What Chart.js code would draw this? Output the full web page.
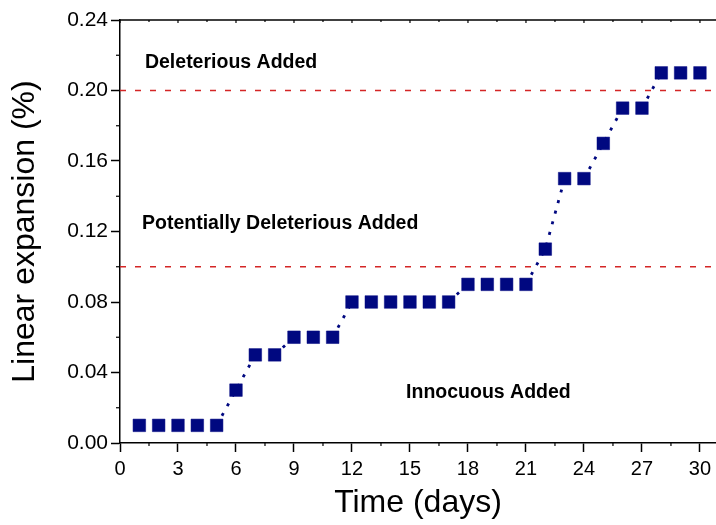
<!DOCTYPE html>
<html>
<head>
<meta charset="utf-8">
<script src="https://cdn.jsdelivr.net/npm/chart.js@4.4.1/dist/chart.umd.min.js"></script>
<style>
  html, body { margin: 0; padding: 0; background: #ffffff; }
  #wrap { width: 716px; height: 525px; }
</style>
</head>
<body>
<div id="wrap"><canvas id="c" width="716" height="525"></canvas></div>
<script>
const days = [1,2,3,4,5,6,7,8,9,10,11,12,13,14,15,16,17,18,19,20,21,22,23,24,25,26,27,28,29,30];
const expansion = [0.01,0.01,0.01,0.01,0.01,0.03,0.05,0.05,0.06,0.06,0.06,0.08,0.08,0.08,0.08,0.08,0.08,0.09,0.09,0.09,0.09,0.11,0.15,0.15,0.17,0.19,0.19,0.21,0.21,0.21];
const thresholds = [0.10, 0.20];
const zoneLabels = ["Deleterious Added", "Potentially Deleterious Added", "Innocuous Added"];
const zoneAnchors = [[1.29, 0.2160], [1.14, 0.1245], [14.8, 0.0284]];
const xMin = 0, xMax = 30.83, xStep = 3, xMinor = 1.5;
const yMin = 0, yMax = 0.24, yStep = 0.04, yMinor = 0.02;

const seriesPoints = days.map((d, i) => ({x: d, y: expansion[i]}));
const thresholdSets = thresholds.map(t => ({
  type: 'line',
  data: [{x: xMin, y: t}, {x: xMax, y: t}],
  borderColor: '#d42626',
  borderWidth: 1.3,
  borderDash: [6, 9],
  pointRadius: 0,
  showLine: true,
  order: 2
}));

const decorPlugin = {
  id: 'decor',
  afterDatasetsDraw(chart) {
    const ctx = chart.ctx, xs = chart.scales.x, ys = chart.scales.y, ca = chart.chartArea;
    ctx.save();
    ctx.strokeStyle = '#000';
    ctx.lineWidth = 1.5;
    ctx.beginPath();
    ctx.moveTo(ca.left, ca.top);
    ctx.lineTo(ca.right, ca.top);
    ctx.stroke();
    ctx.lineWidth = 1.2;
    for (let v = xMin; v <= xMax + 1e-9; v += xMinor) {
      const px = xs.getPixelForValue(v);
      const major = Math.abs(v / xStep - Math.round(v / xStep)) < 1e-6;
      ctx.beginPath();
      if (!major) { ctx.moveTo(px, ca.bottom); ctx.lineTo(px, ca.bottom + 3); }
      ctx.moveTo(px, ca.top); ctx.lineTo(px, ca.top + (major ? 3 : 2));
      ctx.stroke();
    }
    for (let v = yMin + yMinor; v < yMax; v += yStep) {
      const py = ys.getPixelForValue(v);
      ctx.beginPath();
      ctx.moveTo(ca.left, py); ctx.lineTo(ca.left - 4, py);
      ctx.stroke();
    }
    ctx.fillStyle = '#000';
    ctx.font = 'bold 19.5px "Liberation Sans", Arial, sans-serif';
    ctx.textBaseline = 'middle';
    ctx.textAlign = 'left';
    zoneLabels.forEach((t, i) => {
      ctx.fillText(t, xs.getPixelForValue(zoneAnchors[i][0]), ys.getPixelForValue(zoneAnchors[i][1]));
    });
    ctx.restore();
  }
};

new Chart(document.getElementById('c'), {
  type: 'scatter',
  data: {
    datasets: [{
      data: seriesPoints,
      showLine: true,
      borderColor: '#000880',
      borderWidth: 2.8,
      borderDash: [3, 8],
      segment: {
        borderColor: c => (c.p0.parsed.y === c.p1.parsed.y ? 'rgba(0,0,0,0)' : '#000880')
      },
      pointStyle: 'rect',
      pointRadius: 8.9,
      pointHoverRadius: 8.9,
      pointBackgroundColor: '#000880',
      pointBorderColor: '#000880',
      pointBorderWidth: 0.5,
      order: 1
    }, ...thresholdSets]
  },
  options: {
    responsive: false,
    animation: false,
    events: [],
    layout: { autoPadding: false, padding: { left: 0, right: 0, top: 20, bottom: 0 } },
    plugins: { legend: { display: false }, tooltip: { enabled: false } },
    scales: {
      x: {
        type: 'linear',
        min: xMin, max: xMax,
        afterFit(s) { s.height = 82; s.paddingRight = 0; s.paddingLeft = 0; },
        border: { display: true, color: '#000', width: 1.5 },
        grid: { display: true, drawOnChartArea: false, drawTicks: true, tickLength: 9, tickWidth: 1.5, tickColor: '#000' },
        ticks: {
          stepSize: xStep, includeBounds: false, autoSkip: false, maxRotation: 0,
          color: '#000', padding: 5,
          font: { family: '"Liberation Sans", Arial, sans-serif', size: 20 },
          callback: v => String(v)
        },
        title: {
          display: true, text: 'Time (days)', color: '#000',
          font: { family: '"Liberation Sans", Arial, sans-serif', size: 32, lineHeight: 1 },
          padding: { top: 0, bottom: 6 }
        }
      },
      y: {
        type: 'linear',
        min: yMin, max: yMax,
        afterFit(s) { s.width = 120; s.paddingTop = 0; s.paddingBottom = 0; },
        border: { display: true, color: '#000', width: 1.5 },
        grid: { display: true, drawOnChartArea: false, drawTicks: true, tickLength: 9, tickWidth: 1.5, tickColor: '#000' },
        ticks: {
          stepSize: yStep, includeBounds: false, autoSkip: false,
          color: '#000', padding: 3,
          font: { family: '"Liberation Sans", Arial, sans-serif', size: 21 },
          callback: v => Number(v).toFixed(2)
        },
        title: {
          display: true, text: 'Linear expansion (%)', color: '#000',
          font: { family: '"Liberation Sans", Arial, sans-serif', size: 32, lineHeight: 1 },
          padding: { top: 9, bottom: 0 }
        }
      }
    }
  },
  plugins: [decorPlugin]
});
</script>
</body>
</html>
